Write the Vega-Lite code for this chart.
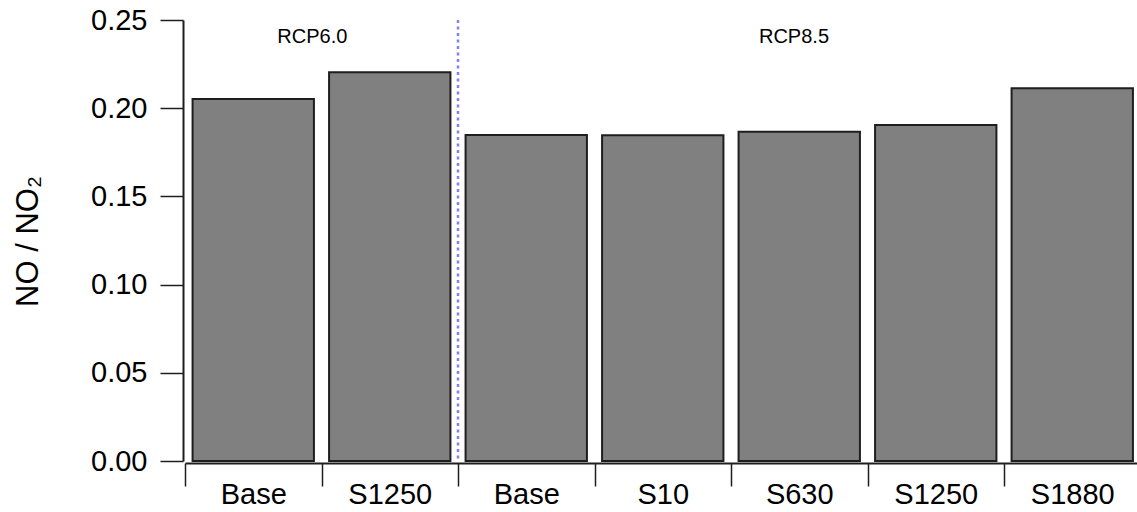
{
  "$schema": "https://vega.github.io/schema/vega-lite/v6.json",
  "autosize": "none",
  "width": 952,
  "height": 441,
  "padding": {"left": 185, "top": 20, "right": 0, "bottom": 51},
  "background": "white",
  "config": {
    "view": {"stroke": null},
    "font": "Liberation Sans, Arial, sans-serif"
  },
  "datasets": {
    "ratio": [
      {"id": "RCP6.0 Base", "value": 0.2052},
      {"id": "RCP6.0 S1250", "value": 0.2204},
      {"id": "RCP8.5 Base", "value": 0.1848},
      {"id": "RCP8.5 S10", "value": 0.1846},
      {"id": "RCP8.5 S630", "value": 0.1867},
      {"id": "RCP8.5 S1250", "value": 0.1905},
      {"id": "RCP8.5 S1880", "value": 0.2113}
    ]
  },
  "layer": [
    {
      "data": {"name": "ratio"},
      "mark": {"type": "bar", "width": {"band": 0.889}, "fill": "#808080", "stroke": "#1e1e1e", "strokeWidth": 2},
      "encoding": {
        "x": {
          "field": "id",
          "type": "nominal",
          "scale": {
            "domain": ["RCP6.0 Base", "RCP6.0 S1250", "RCP8.5 Base", "RCP8.5 S10", "RCP8.5 S630", "RCP8.5 S1250", "RCP8.5 S1880"],
            "range": [0, 955.5],
            "paddingInner": 0,
            "paddingOuter": 0
          },
          "axis": {
            "title": null,
            "orient": "bottom",
            "offset": 2,
            "tickBand": "extent",
            "tickSize": 23,
            "tickColor": "#1e1e1e",
            "tickWidth": 1.5,
            "domainColor": "#1e1e1e",
            "domainWidth": 2,
            "labelExpr": "split(datum.value, ' ')[1]",
            "labelFontSize": 29,
            "labelColor": "#000000",
            "labelBaseline": "alphabetic",
            "labelPadding": 17,
            "labelAngle": 0
          }
        },
        "y": {
          "field": "value",
          "type": "quantitative",
          "scale": {"domain": [0, 0.25], "nice": false, "zero": true},
          "axis": {
            "title": "NO / NO₂",
            "titleFontSize": 31,
            "titleFontWeight": "normal",
            "titleColor": "#000000",
            "titleX": -146,
            "titleY": 221,
            "titleAngle": 270,
            "titleAlign": "center",
            "titleBaseline": "alphabetic",
            "values": [0, 0.05, 0.1, 0.15, 0.2, 0.25],
            "format": ".2f",
            "offset": 2,
            "grid": false,
            "tickSize": 23,
            "tickColor": "#1e1e1e",
            "tickWidth": 1.5,
            "domainColor": "#1e1e1e",
            "domainWidth": 2,
            "labelFontSize": 29,
            "labelColor": "#000000",
            "labelPadding": 13
          }
        }
      }
    },
    {
      "mark": {"type": "rule", "color": "#333333", "strokeWidth": 2},
      "encoding": {"y": {"datum": 0.25}}
    },
    {
      "data": {"values": [{"id": "RCP8.5 Base"}]},
      "mark": {"type": "rule", "color": "#8080ff", "strokeWidth": 2.5, "strokeDash": [3, 3.5]},
      "encoding": {"x": {"field": "id", "type": "nominal", "bandPosition": 0}}
    },
    {
      "data": {"values": [{"id": "RCP6.0 Base", "group": "RCP6.0"}]},
      "mark": {"type": "text", "fontSize": 20, "color": "#000000", "align": "center", "baseline": "alphabetic", "dy": 23.3},
      "encoding": {
        "x": {"field": "id", "type": "nominal", "bandPosition": 0.933},
        "y": {"datum": 0.25},
        "text": {"field": "group"}
      }
    },
    {
      "data": {"values": [{"id": "RCP8.5 S630", "group": "RCP8.5"}]},
      "mark": {"type": "text", "fontSize": 20, "color": "#000000", "align": "center", "baseline": "alphabetic", "dy": 23.3},
      "encoding": {
        "x": {"field": "id", "type": "nominal", "bandPosition": 0.4615},
        "y": {"datum": 0.25},
        "text": {"field": "group"}
      }
    }
  ]
}
